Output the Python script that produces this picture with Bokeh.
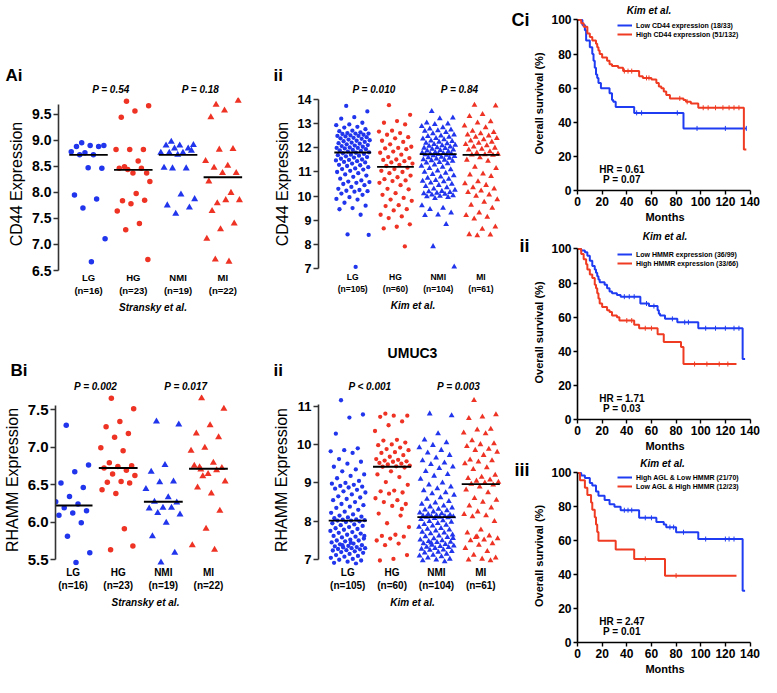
import numpy as np
from bokeh.plotting import figure
from bokeh.layouts import row, column
from bokeh.models import (Label, FixedTicker, PrintfTickFormatter, Legend,
                          LegendItem, Range1d, LinearAxis, Title)
from bokeh.embed import file_html
from bokeh.resources import INLINE

# ------------------------------------------------------------------ data
groups = ["LG", "HG", "NMI", "MI"]
n_stransky = [16, 23, 19, 22]
n_kim = [105, 60, 104, 61]

# Ai  CD44, Stransky et al.
cd44_str_lg = [8.95, 8.90, 8.90, 8.88, 8.88, 8.76, 8.78, 8.72, 8.72, 8.46, 8.47,
               7.95, 7.87, 7.70, 7.11, 6.67]
cd44_str_hg = [9.75, 9.66, 9.56, 9.44, 8.82, 8.82, 8.82, 8.60, 8.49, 8.37, 8.37,
               8.46, 8.46, 8.44, 8.21, 7.98, 7.84, 7.85, 7.78, 7.64, 7.40, 7.28, 6.71]
cd44_str_nmi = [8.97, 8.91, 8.90, 8.90, 8.84, 8.84, 8.76, 8.76, 8.76, 8.80, 8.72,
                8.47, 8.46, 8.46, 7.87, 7.96, 7.75, 7.71, 7.59]
cd44_str_mi = [9.68, 9.76, 9.57, 9.44, 8.83, 8.82, 8.60, 8.51, 8.47, 8.37, 8.37,
               8.21, 7.99, 7.79, 7.85, 7.85, 7.64, 7.40, 7.29, 7.11, 6.67, 6.71]
cd44_str_med = [8.72, 8.43, 8.72, 8.29]
cd44_str_p = ["P = 0.54", "P = 0.18"]

# Aii CD44, Kim et al.
cd44_kim_lg = [13.75, 13.52, 13.28, 13.22, 13.05, 12.98, 12.95, 12.88, 12.85,
               12.78, 12.72, 12.70, 12.65, 12.62, 12.60, 12.60, 12.58, 12.55, 12.52,
               12.50, 12.50, 12.48, 12.45, 12.42, 12.40, 12.38, 12.35, 12.32, 12.30,
               12.28, 12.25, 12.22, 12.20, 12.18, 12.15, 12.12, 12.10, 12.08, 12.05,
               12.02, 12.00, 12.00, 11.98, 11.95, 11.92, 11.90, 11.88, 11.85, 11.82,
               11.80, 11.78, 11.75, 11.72, 11.70, 11.68, 11.65, 11.62, 11.60, 11.55,
               11.52, 11.50, 11.48, 11.45, 11.42, 11.40, 11.35, 11.30, 11.28, 11.25,
               11.20, 11.15, 11.12, 11.10, 11.05, 11.00, 10.95, 10.90, 10.85, 10.80,
               10.72, 10.65, 10.60, 10.58, 10.55, 10.50, 10.45, 10.38, 10.30, 10.25,
               10.22, 10.20, 10.18, 10.10, 10.05, 9.95, 9.88, 9.85, 9.72, 9.60,
               9.50, 9.45, 9.22, 8.40, 8.38, 7.05]
cd44_kim_hg = [13.78, 13.38, 13.12, 13.05, 12.98, 12.72, 12.68, 12.62, 12.55, 12.45,
               12.40, 12.30, 12.25, 12.15, 12.05, 12.00, 11.98, 11.95, 11.85, 11.80,
               11.72, 11.62, 11.58, 11.52, 11.50, 11.45, 11.40, 11.35, 11.30, 11.25,
               11.18, 11.12, 11.05, 11.00, 10.95, 10.85, 10.78, 10.70, 10.65, 10.62,
               10.55, 10.45, 10.30, 10.28, 10.12, 10.05, 9.92, 9.85, 9.80, 9.62,
               9.58, 9.45, 9.40, 9.22, 9.15, 9.08, 8.82, 8.72, 8.65, 7.90]
cd44_kim_nmi = [13.52, 13.25, 13.22, 13.05, 13.00, 12.98, 12.90, 12.85, 12.80, 12.75,
                12.72, 12.70, 12.65, 12.60, 12.55, 12.50, 12.48, 12.45, 12.40, 12.38,
                12.35, 12.30, 12.28, 12.25, 12.20, 12.18, 12.15, 12.12, 12.10, 12.08,
                12.05, 12.02, 12.00, 11.98, 11.95, 11.92, 11.90, 11.88, 11.85, 11.82,
                11.80, 11.78, 11.76, 11.75, 11.74, 11.72, 11.70, 11.68, 11.65, 11.62,
                11.60, 11.58, 11.55, 11.52, 11.50, 11.48, 11.45, 11.40, 11.38, 11.35,
                11.30, 11.25, 11.20, 11.15, 11.10, 11.05, 11.00, 10.95, 10.90, 10.85,
                10.80, 10.75, 10.70, 10.65, 10.62, 10.60, 10.55, 10.50, 10.45, 10.40,
                10.35, 10.30, 10.25, 10.20, 10.18, 10.15, 10.12, 10.10, 10.08, 10.05,
                10.02, 10.00, 9.98, 9.95, 9.90, 9.60, 9.50, 9.45, 9.30, 9.22,
                9.20, 8.82, 7.90, 7.05]
cd44_kim_mi = [13.78, 13.75, 13.40, 13.32, 13.10, 13.05, 12.92, 12.85, 12.70, 12.65,
               12.60, 12.55, 12.50, 12.45, 12.40, 12.35, 12.30, 12.25, 12.20, 12.15,
               12.10, 12.05, 12.00, 11.95, 11.92, 11.85, 11.80, 11.75, 11.72, 11.71,
               11.70, 11.60, 11.50, 11.45, 11.20, 11.15, 10.92, 10.88, 10.82, 10.60,
               10.52, 10.45, 10.35, 10.30, 10.22, 10.15, 10.05, 10.00, 9.85, 9.75,
               9.62, 9.50, 9.30, 9.20, 9.12, 9.05, 8.72, 8.62, 8.40, 8.38, 8.35]
cd44_kim_med = [11.81, 11.21, 11.74, 11.71]
cd44_kim_p = ["P = 0.010", "P = 0.84"]

# Bi  RHAMM, Stransky et al.
rhamm_str_lg = [7.29, 6.76, 6.67, 6.52, 6.46, 6.34, 6.27, 6.24, 6.19, 6.15, 6.12,
                6.09, 5.99, 5.81, 5.59, 5.46]
rhamm_str_hg = [7.65, 7.51, 7.34, 7.27, 7.18, 7.13, 6.99, 6.95, 6.79, 6.75, 6.74,
                6.72, 6.69, 6.64, 6.62, 6.54, 6.53, 6.52, 6.38, 6.43, 5.91, 5.63, 5.68]
rhamm_str_nmi = [7.34, 7.30, 6.76, 6.67, 6.54, 6.53, 6.44, 6.33, 6.27, 6.26, 6.19,
                 6.18, 6.19, 6.12, 6.10, 5.99, 5.81, 5.59, 5.46]
rhamm_str_mi = [7.65, 7.51, 7.29, 7.18, 7.13, 6.99, 6.95, 6.79, 6.73, 6.72, 6.64,
                6.75, 6.69, 6.61, 6.54, 6.38, 6.46, 6.15, 5.91, 5.69, 5.63, 6.70]
rhamm_str_med = [6.22, 6.72, 6.27, 6.71]
rhamm_str_p = ["P = 0.002", "P = 0.017"]

# Bii RHAMM, Kim et al.
rhamm_kim_lg = [11.15, 10.78, 10.70, 10.28, 9.90, 9.85, 9.82, 9.78, 9.62, 9.55,
                9.50, 9.42, 9.35, 9.30, 9.22, 9.18, 9.12, 9.05, 9.00, 8.98,
                8.95, 8.92, 8.90, 8.88, 8.85, 8.82, 8.78, 8.75, 8.70, 8.65,
                8.62, 8.58, 8.55, 8.50, 8.45, 8.42, 8.38, 8.35, 8.30, 8.25,
                8.22, 8.18, 8.15, 8.12, 8.10, 8.08, 8.05, 8.04, 8.03, 8.02,
                8.02, 8.00, 7.98, 7.95, 7.92, 7.90, 7.88, 7.85, 7.82, 7.80,
                7.78, 7.75, 7.72, 7.70, 7.68, 7.65, 7.62, 7.60, 7.58, 7.55,
                7.52, 7.50, 7.50, 7.48, 7.45, 7.42, 7.40, 7.38, 7.36, 7.35,
                7.33, 7.32, 7.30, 7.30, 7.28, 7.27, 7.25, 7.24, 7.22, 7.20,
                7.18, 7.15, 7.12, 7.10, 7.08, 7.05, 7.02, 7.00, 6.98, 6.95,
                6.92, 6.90, 7.38, 7.62, 7.44]
rhamm_kim_hg = [10.80, 10.75, 10.75, 10.72, 10.60, 10.50, 10.35, 10.12, 10.10, 10.05,
                10.00, 9.98, 9.92, 9.88, 9.85, 9.80, 9.78, 9.72, 9.68, 9.62,
                9.60, 9.58, 9.56, 9.55, 9.52, 9.50, 9.48, 9.45, 9.43, 9.42,
                9.40, 9.30, 9.22, 9.15, 9.02, 8.95, 8.80, 8.78, 8.75, 8.72,
                8.60, 8.55, 8.50, 8.45, 8.40, 8.20, 8.15, 7.95, 7.85, 7.65,
                7.62, 7.60, 7.55, 7.50, 7.42, 7.38, 7.12, 7.02, 6.98, 8.32]
rhamm_kim_nmi = [10.80, 10.75, 10.28, 10.12, 10.05, 9.98, 9.92, 9.85, 9.78, 9.72,
                 9.65, 9.58, 9.52, 9.48, 9.42, 9.38, 9.30, 9.22, 9.18, 9.10,
                 9.00, 8.95, 8.90, 8.85, 8.80, 8.75, 8.72, 8.68, 8.62, 8.58,
                 8.52, 8.48, 8.45, 8.40, 8.38, 8.35, 8.32, 8.30, 8.28, 8.25,
                 8.22, 8.20, 8.18, 8.16, 8.15, 8.14, 8.13, 8.12, 8.12, 8.11,
                 8.11, 8.10, 8.08, 8.05, 8.02, 8.00, 7.98, 7.95, 7.92, 7.90,
                 7.88, 7.85, 7.82, 7.80, 7.78, 7.75, 7.72, 7.70, 7.68, 7.65,
                 7.62, 7.60, 7.58, 7.55, 7.52, 7.50, 7.48, 7.46, 7.45, 7.42,
                 7.40, 7.38, 7.36, 7.35, 7.33, 7.32, 7.30, 7.28, 7.26, 7.25,
                 7.22, 7.20, 7.18, 7.15, 7.12, 7.10, 7.08, 7.05, 7.02, 7.00,
                 6.98, 6.95, 7.44, 7.56]
rhamm_kim_mi = [11.15, 10.78, 10.72, 10.68, 10.40, 10.38, 10.30, 10.28, 10.10, 10.02,
                10.00, 9.95, 9.88, 9.85, 9.80, 9.72, 9.60, 9.58, 9.55, 9.50,
                9.40, 9.35, 9.20, 9.15, 9.12, 9.08, 9.05, 9.02, 9.00, 8.97,
                8.95, 8.90, 8.82, 8.75, 8.60, 8.55, 8.50, 8.40, 8.35, 8.25,
                8.18, 8.15, 8.12, 8.00, 7.78, 7.70, 7.62, 7.58, 7.55, 7.52,
                7.50, 7.42, 7.38, 7.30, 7.22, 7.12, 7.05, 7.02, 7.00, 6.98, 7.60]
rhamm_kim_med = [8.02, 9.42, 8.11, 8.97]
rhamm_kim_p = ["P < 0.001", "P = 0.003"]

# Ci  Kaplan-Meier, CD44
ci_low_t = [0, 4, 6, 7, 10, 12, 13, 14, 15, 16, 17, 19, 26, 28, 29, 31, 46, 86, 137]
ci_low_s = [100, 97, 94, 88, 84, 80, 76, 72, 68, 66, 63, 60, 57, 53, 52, 49, 45.5, 36.4, 36.4]
ci_low_cens = [48, 52, 81, 97, 120, 137]
ci_high_t = [0, 3, 5, 8, 10, 12, 15, 16, 17, 18, 20, 24, 26, 28, 33, 37, 50, 53, 60,
             64, 66, 68, 70, 72, 75, 86, 88, 92, 98, 135, 137]
ci_high_s = [100, 98, 96, 92, 90, 88, 86, 84, 82, 80, 78, 76, 74, 73, 72, 70, 67, 66, 65,
             63, 61, 60, 58, 56, 54, 53, 52, 51, 48.5, 24, 24]
ci_high_cens = [38, 41, 44, 56, 58, 83, 89, 102, 106, 112, 118, 123, 127, 131]

# Cii Kaplan-Meier, HMMR
cii_low_t = [0, 3, 6, 8, 10, 12, 14, 15, 16, 17, 18, 22, 24, 26, 28, 32, 35, 51, 58,
             65, 66, 67, 71, 81, 98, 134, 136]
cii_low_s = [100, 99, 98, 96, 93, 90, 88, 86, 84, 82, 80.5, 79, 77, 75, 74, 73, 72, 68, 66.5,
             64, 62, 61, 59, 57, 53.5, 35.5, 35.5]
cii_low_cens = [38, 42, 46, 56, 62, 77, 87, 90, 104, 112, 120, 127, 131]
cii_high_t = [0, 3, 5, 7, 8, 10, 12, 14, 15, 16, 17, 18, 20, 24, 26, 28, 32, 34, 46, 50,
              65, 70, 84, 86, 129]
cii_high_s = [100, 97, 94, 91, 88, 85, 83, 79, 77, 74, 71, 68, 66, 64, 63, 61, 60, 58, 55.5,
              53.5, 50, 45.5, 42.5, 32.5, 32.5]
cii_high_cens = [40, 44, 55, 60, 95, 105, 115, 122]

# Ciii Kaplan-Meier, AGL & HMMR
ciii_a_t = [0, 3, 6, 10, 12, 15, 17, 22, 26, 30, 35, 50, 64, 70, 72, 80, 98, 134, 136]
ciii_a_s = [100, 98.5, 97, 94, 92.5, 89, 86.5, 84, 81.5, 80, 78, 73.5, 71, 69.5, 68, 65,
            61, 30.5, 30.5]
ciii_a_cens = [38, 41, 44, 55, 60, 75, 78, 86, 104, 120, 123, 127]
ciii_b_t = [0, 2, 6, 8, 11, 12, 14, 15, 16, 17, 31, 46, 71, 129]
ciii_b_s = [100, 95.7, 91.3, 87.0, 82.6, 78.3, 73.9, 69.6, 65.2, 60.0, 54.8, 49.3, 39.4, 39.4]
ciii_b_cens = [55, 80]

# ------------------------------------------------------------------ style / layout
FONT = "Liberation Sans"
BLUE = "#2035ec"
RED = "#ee3224"
KBLUE = "#1f3cf2"
KRED = "#ef3b22"

# page-pixel geometry: figure box (x, y, w, h), frame (left, top, w, h)
GEO = {
    "Ai":   dict(box=(0, 0, 270, 318),     frame=(58, 97, 189, 178),  xr=(0.33, 4.55), yr=(6.5, 9.82)),
    "Aii":  dict(box=(270, 0, 238, 318),   frame=(312, 97, 195, 173), xr=(0.2, 4.62),  yr=(6.9, 14.1)),
    "Bi":   dict(box=(0, 318, 270, 302),   frame=(50, 394, 185, 172), xr=(0.61, 4.6),  yr=(5.42, 7.7)),
    "Bii":  dict(box=(270, 318, 238, 302), frame=(312, 394, 194, 171), xr=(0.34, 4.58), yr=(6.85, 11.3)),
    "Ci":   dict(box=(508, 0, 253, 225),   frame=(570, 16, 182, 174),  xr=(0, 142), yr=(0, 102)),
    "Cii":  dict(box=(508, 225, 253, 229), frame=(570, 245, 182, 174), xr=(0, 142), yr=(0, 102)),
    "Ciii": dict(box=(508, 454, 253, 223), frame=(570, 468, 182, 174), xr=(0, 142), yr=(0, 102)),
}


def make_fig(g):
    bx, by, bw, bh = g["box"]
    fl, ft, fw, fh = g["frame"]
    p = figure(width=bw, height=bh, x_range=Range1d(*g["xr"]), y_range=Range1d(*g["yr"]),
               output_backend="svg", toolbar_location=None,
               min_border_left=fl - bx, min_border_top=ft - by,
               min_border_right=bx + bw - fl - fw, min_border_bottom=by + bh - ft - fh)
    p.xgrid.visible = False
    p.ygrid.visible = False
    p.outline_line_color = None
    p.background_fill_color = "white"
    p.border_fill_color = "white"
    return p


def text_axis(p, side, ticks, texts, size, style, standoff):
    """Axis with no line/ticks used to carry text labels at given data positions."""
    ax = LinearAxis(ticker=FixedTicker(ticks=ticks),
                    major_label_overrides={t: s for t, s in zip(ticks, texts)},
                    axis_line_color=None, major_tick_line_color=None,
                    minor_tick_line_color=None, major_tick_out=0, major_tick_in=0,
                    major_label_standoff=standoff, major_label_text_font=FONT,
                    major_label_text_font_size=f"{size}px",
                    major_label_text_font_style=style,
                    major_label_text_color="black")
    p.add_layout(ax, side)
    return ax


def title_text(p, text, align, offset, size, standoff=0):
    p.add_layout(Title(text=text, align=align, offset=offset, standoff=standoff,
                       text_font=FONT, text_font_size=f"{size}px",
                       text_font_style="bold", text_color="black"), "above")


def axis_common(ax, tick_fs, color="#333333"):
    ax.major_label_text_font = FONT
    ax.axis_label_text_font = FONT
    ax.major_label_text_font_style = "bold"
    ax.major_label_text_font_size = f"{tick_fs}px"
    ax.major_label_text_color = "black"
    ax.axis_label_text_color = "black"
    ax.minor_tick_line_color = None
    ax.axis_line_color = color
    ax.major_tick_line_color = color


def scatter_panel(key, series, medians, ns, ylabel, yticks, yfmt, ybounds, xlabel,
                  ptexts, letter, letter_x, letter_standoff, tick_fs, cat_fs, msize):
    g = GEO[key]
    p = make_fig(g)
    for i, vals in enumerate(series):
        vals = np.asarray(vals, float)
        k = np.arange(len(vals))
        off = ((k * 0.6180339887 + 0.31) % 1.0 - 0.5) * 0.8
        color = BLUE if i % 2 == 0 else RED
        if i < 2:
            p.scatter((i + 1) + off, vals, marker="circle", size=msize,
                      fill_color=color, line_color=color, line_width=0)
        else:
            p.scatter((i + 1) + off, vals, marker="triangle", size=msize + 1.5,
                      fill_color=color, line_color=color, line_width=0)
        p.segment(x0=[i + 1 - 0.43], x1=[i + 1 + 0.43], y0=[medians[i]], y1=[medians[i]],
                  line_color="black", line_width=1.8)

    yax = p.yaxis[0]
    axis_common(yax, tick_fs)
    yax.ticker = FixedTicker(ticks=yticks)
    yax.formatter = PrintfTickFormatter(format=yfmt)
    yax.bounds = ybounds
    yax.axis_line_width = 1.6
    yax.major_tick_line_width = 1.6
    yax.major_tick_out = 5
    yax.major_tick_in = 0
    yax.major_label_standoff = 2
    yax.axis_label = ylabel
    yax.axis_label_text_font_size = "16px"
    yax.axis_label_text_font_style = "normal"
    yax.axis_label_standoff = 4

    xax = p.xaxis[0]
    axis_common(xax, cat_fs)
    xax.ticker = FixedTicker(ticks=[1, 2, 3, 4])
    xax.major_label_overrides = {i + 1: f"{grp}\n(n={n})" for i, (grp, n) in enumerate(zip(groups, ns))}
    xax.axis_line_color = None
    xax.major_tick_line_color = None
    xax.major_tick_out = 0
    xax.major_tick_in = 0
    xax.major_label_standoff = 1
    xax.axis_label = xlabel
    xax.axis_label_text_font_size = "10px"
    xax.axis_label_text_font_style = "bold italic"
    xax.axis_label_standoff = 3

    # p-values above the frame, then the panel letter further out
    text_axis(p, "above", [1.5, 3.5], ptexts, 10, "bold italic", 3)
    title_text(p, letter, "left", letter_x - g["frame"][0], 17, letter_standoff)
    return p


pAi = scatter_panel("Ai", [cd44_str_lg, cd44_str_hg, cd44_str_nmi, cd44_str_mi],
                    cd44_str_med, n_stransky, "CD44 Expression",
                    [6.5, 7.0, 7.5, 8.0, 8.5, 9.0, 9.5], "%.1f", (6.5, 9.68),
                    "Stransky et al.", cd44_str_p, "Ai", 5, -8, 14, 9.5, 5.5)
pAii = scatter_panel("Aii", [cd44_kim_lg, cd44_kim_hg, cd44_kim_nmi, cd44_kim_mi],
                     cd44_kim_med, n_kim, "CD44 Expression",
                     [7, 8, 9, 10, 11, 12, 13, 14], "%d", (7, 14),
                     "Kim et al.", cd44_kim_p, "ii", 267, -8, 12.5, 8.5, 4.3)
pBi = scatter_panel("Bi", [rhamm_str_lg, rhamm_str_hg, rhamm_str_nmi, rhamm_str_mi],
                    rhamm_str_med, n_stransky, "RHAMM Expression",
                    [5.5, 6.0, 6.5, 7.0, 7.5], "%.1f", (5.5, 7.55),
                    "Stransky et al.", rhamm_str_p, "Bi", 5, -4, 15, 10, 5.5)
pBii = scatter_panel("Bii", [rhamm_kim_lg, rhamm_kim_hg, rhamm_kim_nmi, rhamm_kim_mi],
                     rhamm_kim_med, n_kim, "RHAMM Expression",
                     [7, 8, 9, 10, 11], "%d", (7, 11.03),
                     "Kim et al.", rhamm_kim_p, "ii", 267, -4, 13, 10, 4.3)
title_text(pBii, "UMUC3", "center", -2, 14)


# ---- Kaplan-Meier panels
def km_panel(key, curves, names, hr, pv, letter, letter_y, kim_x, kim_standoff):
    g = GEO[key]
    p = make_fig(g)
    items = []
    for (t, s, cens, color), name in zip(curves, names):
        r = p.step(t, s, mode="after", line_color=color, line_width=2)
        t_arr = np.asarray(t, float)
        s_arr = np.asarray(s, float)
        idx = np.searchsorted(t_arr, np.asarray(cens, float), side="right") - 1
        p.scatter(cens, s_arr[idx], marker="dash", angle=np.pi / 2, size=5,
                  line_color=color, line_width=1)
        items.append(LegendItem(label=name, renderers=[r]))
    leg = Legend(items=items, location=(40, 152), margin=0, padding=2, spacing=1,
                 label_text_font=FONT, label_text_font_size="7px",
                 label_text_font_style="bold", label_text_color="black",
                 label_height=8, glyph_height=8,
                 glyph_width=15, label_standoff=4, border_line_color=None,
                 background_fill_alpha=0)
    p.add_layout(leg)

    for ax in (p.xaxis[0], p.yaxis[0]):
        axis_common(ax, 12, color="black")
        ax.axis_line_width = 1.6
        ax.major_tick_line_width = 1.4
        ax.major_tick_out = 4
        ax.major_tick_in = 0
        ax.major_label_standoff = 2
        ax.axis_label_text_font_size = "11px"
        ax.axis_label_text_font_style = "bold"
    p.xaxis[0].ticker = FixedTicker(ticks=[0, 20, 40, 60, 80, 100, 120, 140])
    p.xaxis[0].bounds = (0, 140)
    p.xaxis[0].axis_label = "Months"
    p.xaxis[0].axis_label_standoff = 2
    p.yaxis[0].ticker = FixedTicker(ticks=[0, 20, 40, 60, 80, 100])
    p.yaxis[0].bounds = (0, 100)
    p.yaxis[0].axis_label = "Overall survival (%)"
    p.yaxis[0].axis_label_standoff = 3

    # panel letter left of the y axis, source note above the frame
    text_axis(p, "left", [letter_y], [letter], 18, "bold", 1)
    text_axis(p, "above", [kim_x], ["Kim et al."], 10, "bold italic", kim_standoff)

    p.add_layout(Label(x=36, y=12.5, text=hr, text_font=FONT, text_font_size="10px",
                       text_font_style="bold", text_align="center", text_baseline="middle",
                       text_color="black"))
    p.add_layout(Label(x=36, y=6.5, text=pv, text_font=FONT, text_font_size="10px",
                       text_font_style="bold", text_align="center", text_baseline="middle",
                       text_color="black"))
    return p


pCi = km_panel("Ci", [(ci_low_t, ci_low_s, ci_low_cens, KBLUE),
                      (ci_high_t, ci_high_s, ci_high_cens, KRED)],
               ["Low CD44 expression (18/33)", "High CD44 expression (51/132)"],
               "HR = 0.61", "P = 0.07", "Ci", 100, 58, 1)
pCii = km_panel("Cii", [(cii_low_t, cii_low_s, cii_low_cens, KBLUE),
                        (cii_high_t, cii_high_s, cii_high_cens, KRED)],
                ["Low HMMR expression (36/99)", "High HMMR expression (33/66)"],
                "HR = 1.71", "P = 0.03", "ii", 102, 71, 4)
pCiii = km_panel("Ciii", [(ciii_a_t, ciii_a_s, ciii_a_cens, KBLUE),
                          (ciii_b_t, ciii_b_s, ciii_b_cens, KRED)],
                 ["High AGL & Low HMMR (21/70)", "Low AGL & High HMMR (12/23)"],
                 "HR = 2.47", "P = 0.01", "iii", 102, 69, 1)

layout = row(
    column(row(pAi, pAii, spacing=0), row(pBi, pBii, spacing=0), spacing=0),
    column(pCi, pCii, pCiii, spacing=0),
    spacing=0,
)

open("out.html", "w").write(file_html(layout, INLINE))
